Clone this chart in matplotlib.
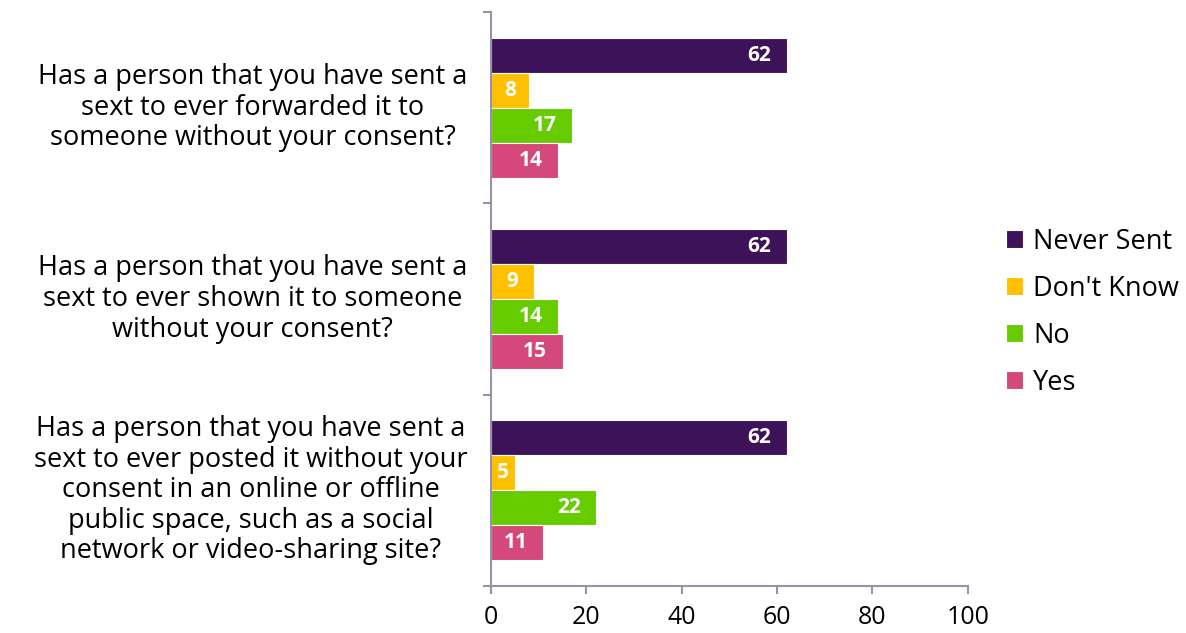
import matplotlib.pyplot as plt
import numpy as np

plt.rcParams['font.family'] = ['Open Sans', 'DejaVu Sans']

questions = [
    "Has a person that you have sent a\nsext to ever forwarded it to\nsomeone without your consent?",
    "Has a person that you have sent a\nsext to ever shown it to someone\nwithout your consent?",
    "Has a person that you have sent a\nsext to ever posted it without your\nconsent in an online or offline\npublic space, such as a social\nnetwork or video-sharing site?",
]
series = ["Never Sent", "Don't Know", "No", "Yes"]
never_sent = [62, 62, 62]
dont_know = [8, 9, 5]
no = [17, 14, 22]
yes = [14, 15, 11]
colors = ["#3d1259", "#ffc000", "#66cc00", "#d4487a"]
axis_col = "#9990aa"

fig = plt.figure(figsize=(11.86, 6.33), dpi=100)
ax = fig.add_axes([0.414, 0.0743, 0.402, 0.9067])

pos = np.array([2, 1, 0])
h = 0.183
offsets = [1.5 * h, 0.5 * h, -0.5 * h, -1.5 * h]
for vals, name, c, off in zip([never_sent, dont_know, no, yes], series, colors, offsets):
    bars = ax.barh(pos + off, vals, height=h, color=c, edgecolor="white",
                   linewidth=0.8, label=name)
    for b, v in zip(bars, vals):
        y = b.get_y() + b.get_height() / 2
        if v < 10:
            ax.text(v / 2, y, str(v), ha="center", va="center", color="white",
                    fontsize=15, fontweight="bold")
        else:
            ax.annotate(str(v), (v, y), xytext=(-11, 0), textcoords="offset points",
                        ha="right", va="center", color="white",
                        fontsize=15, fontweight="bold")

ax.set_xlim(0, 100)
ax.set_ylim(-0.5, 2.5)
ax.set_xticks([0, 20, 40, 60, 80, 100])
ax.set_yticks([-0.5, 0.5, 1.5, 2.5])
ax.set_yticklabels([])
ax.tick_params(axis="x", colors=axis_col, labelcolor="black", labelsize=18,
               length=6, width=1.5, pad=8)
ax.tick_params(axis="y", colors=axis_col, length=6, width=1.5)
for sp in ["top", "right"]:
    ax.spines[sp].set_visible(False)
for sp in ["left", "bottom"]:
    ax.spines[sp].set_color(axis_col)
    ax.spines[sp].set_linewidth(1.5)

for p, q in zip(pos, questions):
    ax.annotate(q, (0, p), xytext=(-17, 0), textcoords="offset points",
                ha="right", va="center", multialignment="center",
                fontsize=19.5, linespacing=1.12, annotation_clip=False)

handles, labels = ax.get_legend_handles_labels()
fig.legend(handles, labels, loc="center left", bbox_to_anchor=(0.828, 0.507),
           frameon=False, fontsize=19.5, handlelength=0.6, handleheight=0.6,
           handletextpad=0.4, labelspacing=0.7)

fig.savefig("out.png", dpi=100)
